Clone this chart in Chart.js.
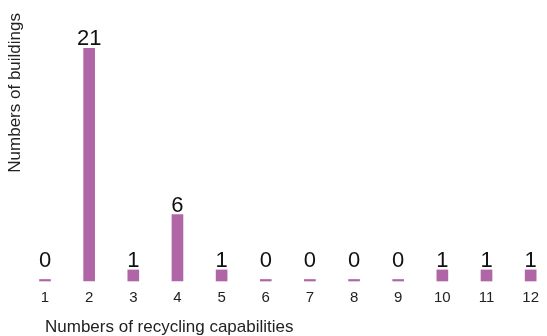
<!DOCTYPE html>
<html>
<head>
<meta charset="utf-8">
<script src="https://cdn.jsdelivr.net/npm/chart.js@4"></script>
<style>
  html, body { margin: 0; padding: 0; background: #fff; }
  #wrap { width: 547px; height: 336px; position: relative; }
</style>
</head>
<body>
<div id="wrap"><canvas id="c"></canvas></div>
<script>
const categories = ['1', '2', '3', '4', '5', '6', '7', '8', '9', '10', '11', '12'];
const buildingCounts = [0, 21, 1, 6, 1, 0, 0, 0, 0, 1, 1, 1];
const xTitle = 'Numbers of recycling capabilities';
const yTitle = 'Numbers of buildings';

const FONT = '"Liberation Sans", Arial, Helvetica, sans-serif';
const BAR = '#B065A6';

const valueLabels = {
  id: 'valueLabels',
  afterDatasetsDraw(chart) {
    const ctx = chart.ctx;
    const ys = chart.scales.y;
    const meta = chart.getDatasetMeta(0);
    ctx.save();
    ctx.font = '22px ' + FONT;
    ctx.fillStyle = '#111';
    ctx.textAlign = 'center';
    ctx.textBaseline = 'alphabetic';
    meta.data.forEach((el, i) => {
      const v = chart.data.datasets[0].data[i];
      const top = Math.min(el.y, ys.getPixelForValue(1));
      ctx.fillText(String(v), el.x, top - 3);
    });
    ctx.restore();
  }
};

new Chart(document.getElementById('c'), {
  type: 'bar',
  data: {
    labels: categories,
    datasets: [{
      data: buildingCounts,
      backgroundColor: BAR,
      borderWidth: 0,
      barThickness: 11,
      minBarLength: 1.5,
      clip: false
    }]
  },
  options: {
    responsive: true,
    maintainAspectRatio: false,
    animation: false,
    devicePixelRatio: 1,
    layout: { padding: { top: 13, right: 9, bottom: 0, left: 0 } },
    plugins: { legend: { display: false }, tooltip: { enabled: false } },
    scales: {
      x: {
        offset: false,
        grid: { display: false, drawTicks: false },
        border: { display: false },
        ticks: { color: '#222', font: { family: FONT, size: 15 }, padding: 8, maxRotation: 0, autoSkip: false },
        title: {
          display: true, text: xTitle, align: 'start', color: '#222',
          font: { family: FONT, size: 17, lineHeight: 1 },
          padding: { top: 4, bottom: 0 }
        }
      },
      y: {
        min: 0,
        max: 24.2,
        grid: { display: false, drawTicks: false },
        border: { display: false },
        ticks: { display: false },
        title: {
          display: true, text: yTitle, align: 'end', color: '#222',
          font: { family: FONT, size: 17, lineHeight: 1 },
          padding: { top: 7, bottom: 21 }
        }
      }
    }
  },
  plugins: [valueLabels]
});
</script>
</body>
</html>
